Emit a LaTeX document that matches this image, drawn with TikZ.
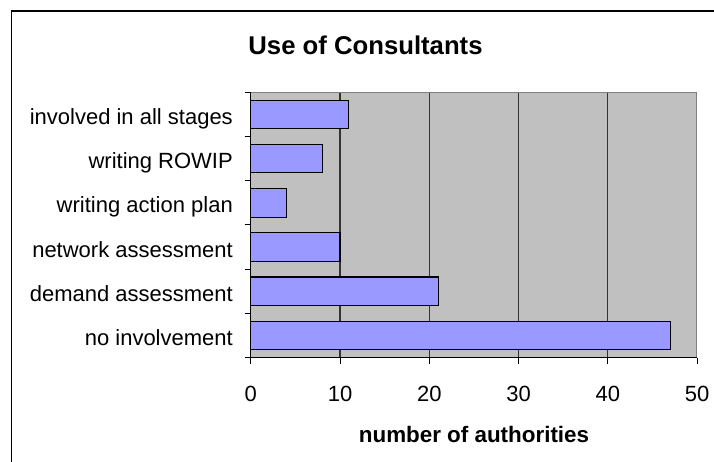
\documentclass[tikz,border=0pt]{standalone}
\usepackage{fontspec}
\setmainfont{Liberation Sans}
\definecolor{plotgray}{HTML}{C0C0C0}
\definecolor{barblue}{HTML}{9999FF}
\begin{document}
\begin{tikzpicture}
  [
    x = 1pt, y = -1pt,
    bar/.style = {draw = black, line width = 1.1pt, fill = barblue},
    grid line/.style = {draw = black!80, line width = 1.1pt},
    axis line/.style = {draw = black, line width = 1pt},
    cat label/.style = {anchor = base east, inner sep = 0pt,
        font = \fontsize{22}{26}\selectfont},
    tick label/.style = {anchor = base, inner sep = 0pt,
        font = \fontsize{22}{26}\selectfont},
  ]

  \useasboundingbox (0,0) rectangle (714,461);
  \draw[line width = 1.2pt] (11.5,480) -- (11.5,11) -- (730,11);

  % plot area
  \fill[plotgray] (250.7,92.3) rectangle (696.7,357.7);
  \foreach \v in {10,20,30,40} {
      \draw[grid line] ({250.7+\v*8.93},92.3) -- ({250.7+\v*8.93},357.7);
    }
  \draw[gray, line width = 1pt] (250.7,92.3) -- (696.7,92.3) -- (696.7,357.7);

  % bars
  \foreach \val/\txt [count = \i from 0] in {11/involved in all stages,
      8/writing ROWIP, 4/writing action plan, 10/network assessment,
      21/demand assessment, 47/no involvement} {
      \pgfmathsetmacro\yc{114.4+\i*44.23}
      \draw[bar] (250.7,{\yc-14.3}) rectangle ({250.7+\val*8.93},{\yc+14.3});
      \node[cat label] (cat-\i) at (233,{\yc+10}) {\txt};
    }

  % axes
  \draw[axis line] (250.7,92.3) -- (250.7,357.7) -- (696.7,357.7);
  \foreach \i in {0,...,6} {
      \draw[axis line] (244.5,{92.3+\i*44.23}) -- (250.7,{92.3+\i*44.23});
    }
  \foreach \v in {0,10,...,50} {
      \draw[axis line] ({250.7+\v*8.93},357.7) -- ({250.7+\v*8.93},363.5);
      \node[tick label] (tick-\v) at ({250.7+\v*8.93},401.5) {\v};
    }

  \node[anchor = base, inner sep = 0pt, font = \bfseries\fontsize{25.7}{30}\selectfont]
    (title) at (365.5,54.3) {Use of Consultants};
  \node[anchor = base, inner sep = 0pt, font = \bfseries\fontsize{22.4}{26}\selectfont]
    (xtitle) at (474,442.7) {number of authorities};

\end{tikzpicture}
\end{document}
